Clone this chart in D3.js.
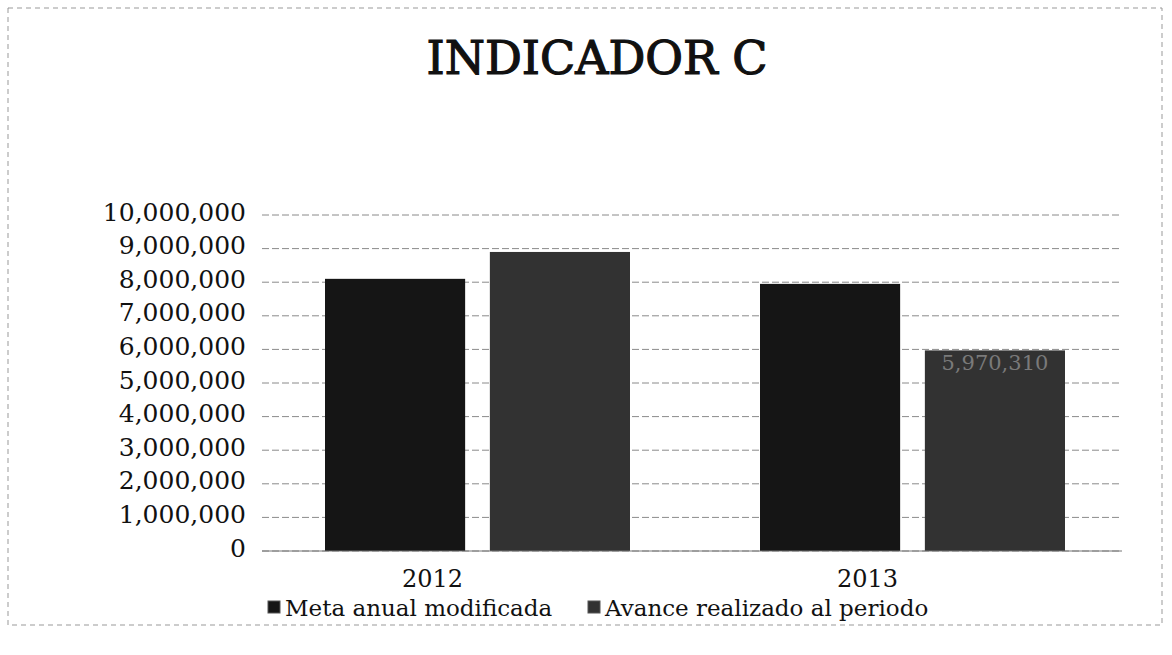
<!DOCTYPE html>
<html>
<head>
<meta charset="utf-8">
<script src="https://cdn.jsdelivr.net/npm/d3@7"></script>
<style>
    body { margin: 0; background: #fff; }
    svg { font-family: "DejaVu Serif", serif; }
    .grid line { stroke: #8a8a8a; stroke-width: 1; stroke-dasharray: 7,3; }
    .y-axis text { font-size: 25px; fill: #111; }
    .x-axis text { font-size: 24px; fill: #111; }
</style>
</head>
<body>
<div id="chart"></div>
<script>
// chart data
var years = ['2012', '2013'];
var seriesNames = ['Meta anual modificada', 'Avance realizado al periodo'];
var metaAnual = [8100000, 7950000];
var avanceRealizado = [8900000, 5970310];
var yTicks = [0, 1000000, 2000000, 3000000, 4000000, 5000000, 6000000, 7000000, 8000000, 9000000, 10000000];
// only the last bar carries a visible data label in the scan
var labelled = [[false, false], [false, true]];

function main(domSelector) {
    var width = 1172;
    var height = 655;
    var colors = ['#151515', '#323232'];

    var svg = d3.select(domSelector).append('svg')
        .attr('width', width)
        .attr('height', height);

    // dashed frame of the scanned chart
    svg.append('rect')
        .attr('x', 8).attr('y', 8)
        .attr('width', 1154).attr('height', 617)
        .attr('fill', 'none')
        .attr('stroke', '#999')
        .attr('stroke-dasharray', '5,4');

    svg.append('text')
        .attr('x', 597).attr('y', 74)
        .attr('text-anchor', 'middle')
        .style('font-size', '46px')
        .style('fill', '#111')
        .style('stroke', '#111')
        .style('stroke-width', '1.2px')
        .text('INDICADOR C');

    var yScale = d3.scaleLinear().domain([0, 10000000]).range([551, 215]);
    var xScale = d3.scaleBand().domain(years).range([260, 1130]);
    var xInner = d3.scaleBand().domain(d3.range(seriesNames.length))
        .range([65, 370]).paddingInner(0.15);

    // gridlines
    svg.append('g')
        .attr('class', 'grid')
        .selectAll('line')
        .data(yTicks)
        .enter()
        .append('line')
        .attr('x1', 262).attr('x2', 1122)
        .attr('y1', function (d) { return yScale(d); })
        .attr('y2', function (d) { return yScale(d); });

    var yAxis = svg.append('g')
        .attr('class', 'y-axis')
        .attr('transform', 'translate(246,-3)')
        .call(d3.axisLeft(yScale).tickValues(yTicks).tickSize(0).tickPadding(0).tickFormat(d3.format(',')));
    yAxis.attr('font-family', null).attr('font-size', null);
    yAxis.select('.domain').remove();

    var rows = years.map(function (y, i) {
        return { year: y, values: [metaAnual[i], avanceRealizado[i]], labels: labelled[i] };
    });

    var groups = svg.selectAll('g.year')
        .data(rows)
        .enter()
        .append('g')
        .attr('class', 'year')
        .attr('transform', function (d) { return 'translate(' + xScale(d.year) + ',0)'; });

    var bars = groups.selectAll('g.bar')
        .data(function (d) {
            return d.values.map(function (v, k) { return { k: k, value: v, label: d.labels[k] }; });
        })
        .enter()
        .append('g')
        .attr('class', 'bar');

    bars.append('rect')
        .attr('x', function (d) { return xInner(d.k); })
        .attr('y', function (d) { return yScale(d.value); })
        .attr('width', xInner.bandwidth())
        .attr('height', function (d) { return yScale(0) - yScale(d.value); })
        .attr('fill', function (d) { return colors[d.k]; });

    bars.filter(function (d) { return d.label; })
        .append('text')
        .attr('x', function (d) { return xInner(d.k) + xInner.bandwidth() / 2; })
        .attr('y', function (d) { return yScale(d.value) + 20; })
        .attr('text-anchor', 'middle')
        .style('font-size', '21px')
        .style('fill', '#7a7a7a')
        .text(function (d) { return d3.format(',')(d.value); });

    // baseline
    svg.append('line')
        .attr('x1', 262).attr('x2', 1122)
        .attr('y1', yScale(0)).attr('y2', yScale(0))
        .attr('stroke', '#777');

    // category labels sit low and left in the scan
    var xAxis = svg.append('g')
        .attr('class', 'x-axis')
        .attr('transform', 'translate(-45,' + (yScale(0) + 19) + ')')
        .call(d3.axisBottom(xScale).tickSize(0).tickPadding(0));
    xAxis.attr('font-family', null).attr('font-size', null);
    xAxis.select('.domain').remove();

    // legend
    var legendX = [268, 588];
    var legend = svg.selectAll('g.legend')
        .data(seriesNames)
        .enter()
        .append('g')
        .attr('class', 'legend')
        .attr('transform', function (d, i) { return 'translate(' + legendX[i] + ',606)'; });
    legend.append('rect')
        .attr('x', 0).attr('y', -5)
        .attr('width', 12).attr('height', 12)
        .attr('fill', function (d, i) { return colors[i]; })
        .attr('stroke', '#555');
    legend.append('text')
        .attr('x', 17).attr('y', 10)
        .style('font-size', '23px')
        .style('fill', '#111')
        .text(function (d) { return d; });
}

main('#chart');
</script>
</body>
</html>
